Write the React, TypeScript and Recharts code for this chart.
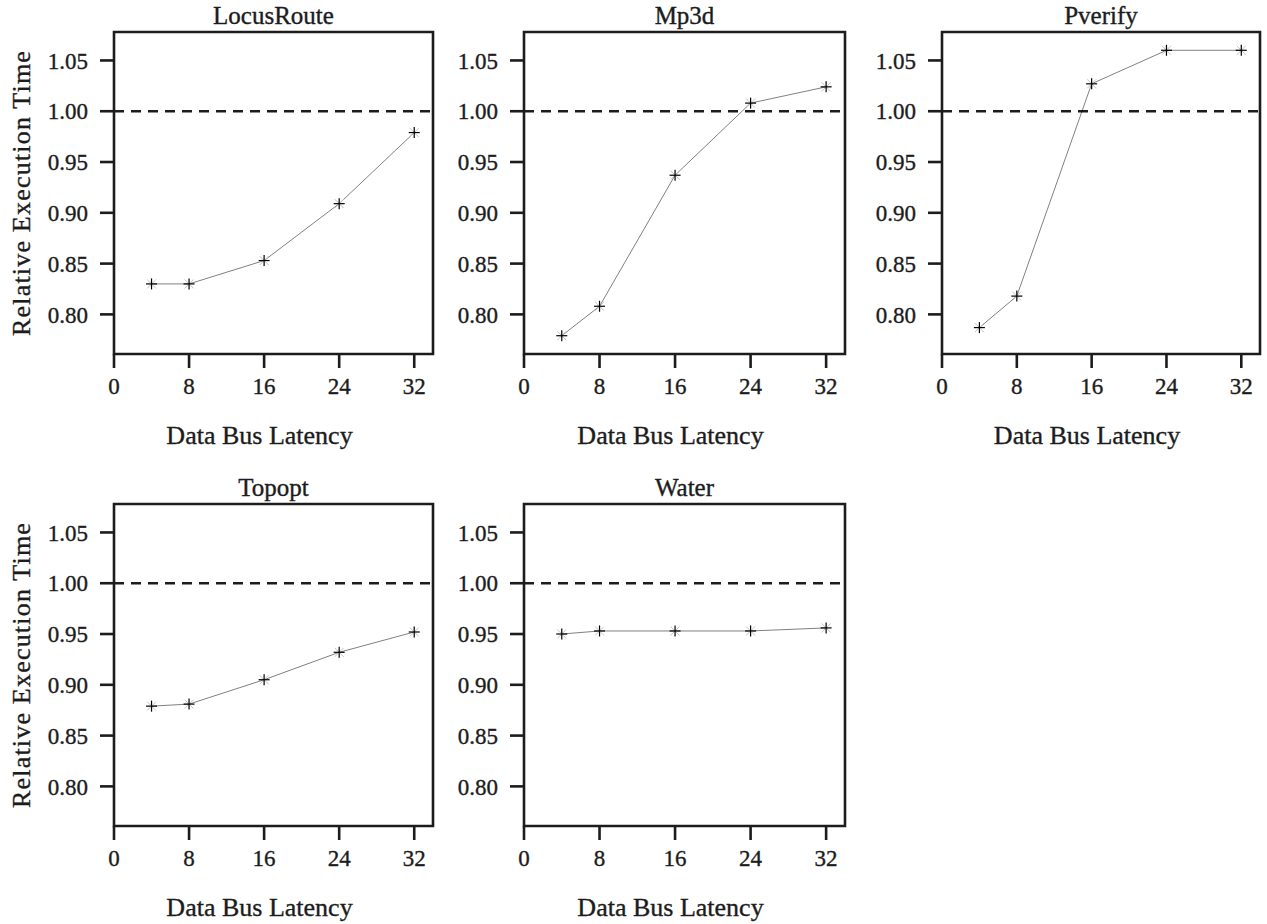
import React from 'react';
import { LineChart, Line, XAxis, YAxis, ReferenceLine, ReferenceArea } from 'recharts';

const latencies = [4, 8, 16, 24, 32];
const locusRoute = [0.83, 0.83, 0.853, 0.909, 0.979];
const mp3d = [0.779, 0.808, 0.937, 1.008, 1.024];
const pverify = [0.787, 0.818, 1.027, 1.06, 1.06];
const topopt = [0.879, 0.881, 0.905, 0.932, 0.952];
const water = [0.95, 0.953, 0.953, 0.953, 0.956];

const panelTitles = ['LocusRoute', 'Mp3d', 'Pverify', 'Topopt', 'Water'];
const panelSeries = [locusRoute, mp3d, pverify, topopt, water];
const xTicks = [0, 8, 16, 24, 32];
const yTicks = [0.8, 0.85, 0.9, 0.95, 1.0, 1.05];
const xDomain = [0, 34];
const yDomain = [0.761, 1.078];
const xLabel = 'Data Bus Latency';
const yLabel = 'Relative Execution Time';

// layout (page coordinates of each plot box)
const layout = [
  { x0: 114, x1: 433, top: 32, yLabel: true },
  { x0: 524, x1: 845, top: 32, yLabel: false },
  { x0: 942, x1: 1260, top: 32, yLabel: false },
  { x0: 114, x1: 433, top: 503.5, yLabel: true },
  { x0: 524, x1: 845, top: 503.5, yLabel: false },
];

const FONT = '"Liberation Serif", "Times New Roman", serif';
const INK = '#1c1c1c';
const Y_AXIS_W = 114;
const MARGIN_TOP = 32;
const PLOT_H = 322;
const X_AXIS_H = 100;
const TEXT_STROKE = 0.35;

const Marker = (props: any) => {
  const { cx, cy, index } = props;
  if (cx == null || cy == null) return <g key={index} />;
  const s = 5.5;
  const d = 4.5;
  return (
    <g key={`m-${index}`}>
      <line x1={cx - d} y1={cy - d} x2={cx + d} y2={cy + d} stroke="#c4c4c4" strokeWidth={1} />
      <line x1={cx - d} y1={cy + d} x2={cx + d} y2={cy - d} stroke="#c4c4c4" strokeWidth={1} />
      <line x1={cx - s} y1={cy} x2={cx + s} y2={cy} stroke="#000" strokeWidth={1.2} />
      <line x1={cx} y1={cy - s} x2={cx} y2={cy + s} stroke="#000" strokeWidth={1.2} />
    </g>
  );
};

function Panel({ idx }: { idx: number }) {
  const L = layout[idx];
  const plotW = L.x1 - L.x0;
  const width = Y_AXIS_W + plotW + 8;
  const height = MARGIN_TOP + PLOT_H + X_AXIS_H;
  const data = latencies.map((x, i) => ({ x, y: panelSeries[idx][i] }));
  const tickStyle = { fill: INK, fontSize: 23, fontFamily: FONT, stroke: INK, strokeWidth: TEXT_STROKE };
  return (
    <div style={{ position: 'absolute', left: L.x0 - Y_AXIS_W, top: L.top - MARGIN_TOP, width, height }}>
      <LineChart width={width} height={height} data={data} margin={{ top: MARGIN_TOP, right: 8, bottom: 0, left: 0 }}>
        <XAxis
          dataKey="x"
          type="number"
          domain={xDomain}
          ticks={xTicks}
          allowDataOverflow
          axisLine={false}
          tickSize={14}
          tickMargin={10}
          height={X_AXIS_H}
          tickLine={{ stroke: INK, strokeWidth: 2.6 }}
          tick={tickStyle}
          label={{
            value: xLabel,
            position: 'insideBottom',
            offset: 10,
            dx: -14,
            fill: INK,
            fontSize: 26,
            fontFamily: FONT,
            stroke: INK,
            strokeWidth: TEXT_STROKE,
          }}
        />
        <YAxis
          type="number"
          domain={yDomain}
          ticks={yTicks}
          allowDataOverflow
          width={Y_AXIS_W}
          axisLine={false}
          tickSize={14}
          tickMargin={12}
          tickFormatter={(v: number) => v.toFixed(2)}
          tickLine={{ stroke: INK, strokeWidth: 2.6 }}
          tick={tickStyle}
          label={
            L.yLabel
              ? {
                  value: yLabel,
                  angle: -90,
                  position: 'insideLeft',
                  offset: 21,
                  fill: INK,
                  fontSize: 26,
                  fontFamily: FONT,
                  stroke: INK,
                  strokeWidth: TEXT_STROKE,
                  style: { textAnchor: 'middle', letterSpacing: '1.2px' },
                }
              : undefined
          }
        />
        <ReferenceArea
          x1={xDomain[0]}
          x2={xDomain[1]}
          y1={yDomain[0]}
          y2={yDomain[1]}
          fill="none"
          stroke={INK}
          strokeWidth={2.6}
          fillOpacity={0}
          label={{
            value: panelTitles[idx],
            position: 'top',
            offset: 8,
            fill: INK,
            fontSize: 25,
            fontFamily: FONT,
            stroke: INK,
            strokeWidth: TEXT_STROKE,
          }}
        />
        <ReferenceLine y={1} stroke={INK} strokeWidth={2.7} strokeDasharray="10 7" />
        <Line
          dataKey="y"
          stroke="#000"
          strokeWidth={0.5}
          dot={Marker}
          activeDot={false}
          isAnimationActive={false}
        />
      </LineChart>
    </div>
  );
}

export default function App() {
  return (
    <div style={{ position: 'absolute', left: 0, top: 0, width: 1267, height: 924, background: '#fff' }}>
      {panelTitles.map((_, i) => (
        <Panel key={i} idx={i} />
      ))}
    </div>
  );
}
